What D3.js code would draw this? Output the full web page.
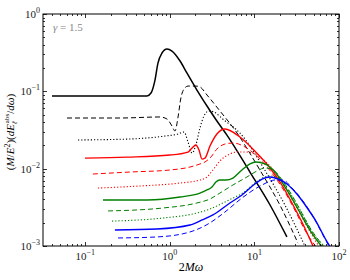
<!DOCTYPE html>
<html>
<head>
<meta charset="utf-8">
<script src="https://cdn.jsdelivr.net/npm/d3@7"></script>
<style>
body { margin: 0; background: #fff; }
text { font-family: "Liberation Serif", "DejaVu Serif", serif; }
</style>
</head>
<body>
<script>
// each curve: [2M*omega, (M/E^2)(dE/domega)]
var blackSolid = [[0.0404,0.0870],[0.536,0.0870],[0.598,0.0951],[0.667,0.140],[0.723,0.232],[0.807,0.313],[0.924,0.353],[1.06,0.332],[1.32,0.247],[1.59,0.173],[2.09,0.104],[2.75,0.0646],[3.60,0.0413],[4.73,0.0272],[8.85,0.00905],[15.3,0.00339],[24.2,0.00131]];
var blackDashed = [[0.0608,0.0452],[0.257,0.0452],[0.764,0.0466],[0.924,0.0439],[1.06,0.0356],[1.15,0.0307],[1.25,0.0466],[1.35,0.0820],[1.47,0.107],[1.64,0.117],[2.03,0.117],[2.27,0.114],[2.75,0.0896],[3.91,0.0557],[5.88,0.0316],[11.6,0.00961],[20.0,0.00339],[32.7,0.00109]];
var blackDotted = [[0.0820,0.0235],[0.338,0.0242],[0.875,0.0264],[1.25,0.0281],[1.47,0.0298],[1.64,0.0221],[1.83,0.0159],[2.03,0.0202],[2.27,0.0336],[2.53,0.0480],[2.90,0.0557],[3.32,0.0540],[4.36,0.0426],[6.74,0.0289],[13.7,0.00905],[23.6,0.00319],[39.5,0.001]];
var redSolid = [[0.0992,0.0137],[0.311,0.0141],[1.00,0.0150],[1.64,0.0164],[1.83,0.0185],[2.03,0.0202],[2.21,0.0174],[2.40,0.0133],[2.60,0.0137],[2.98,0.0196],[3.60,0.0281],[4.48,0.0326],[6.74,0.0257],[10.1,0.0169],[15.3,0.0102],[21.1,0.00615],[27.8,0.00360],[36.4,0.00204],[50.5,0.00094]];
var redDashed = [[0.123,0.00853],[0.338,0.00905],[1.00,0.00961],[1.73,0.0105],[2.27,0.0115],[2.60,0.0122],[2.98,0.0137],[3.70,0.0185],[4.48,0.0208],[5.57,0.0215],[7.72,0.0191],[11.0,0.0141],[16.1,0.00879],[22.9,0.00499],[30.9,0.00275],[39.5,0.00161],[54.8,0.00094]];
var redDotted = [[0.141,0.00562],[0.443,0.00597],[1.32,0.00652],[2.27,0.00713],[2.75,0.00780],[3.23,0.00961],[3.91,0.0126],[4.86,0.0150],[6.21,0.0164],[8.15,0.0164],[11.0,0.0146],[15.3,0.0108],[21.7,0.00633],[30.9,0.00329],[42.9,0.00171],[59.5,0.00094]];
var greenSolid = [[0.162,0.00393],[0.536,0.00393],[1.32,0.00430],[2.27,0.00484],[2.75,0.00530],[3.15,0.00580],[3.50,0.00672],[3.91,0.00713],[4.60,0.00713],[5.57,0.00757],[7.12,0.00961],[8.85,0.0115],[10.4,0.0122],[13.3,0.0115],[17.5,0.00905],[24.2,0.00530],[32.7,0.00301],[45.3,0.00161],[64.5,0.00094]];
var greenDashed = [[0.186,0.00284],[0.829,0.00310],[2.09,0.00360],[2.98,0.00405],[3.91,0.00484],[5.57,0.00615],[8.15,0.00780],[10.7,0.00933],[13.3,0.0102],[16.6,0.00961],[22.9,0.00633],[31.8,0.00349],[44.1,0.00181],[68.1,0.00094]];
var greenDotted = [[0.207,0.00210],[0.829,0.00230],[2.09,0.00267],[2.98,0.00301],[4.24,0.00360],[5.57,0.00417],[7.31,0.00484],[10.1,0.00652],[13.3,0.00780],[16.1,0.00804],[20.0,0.00713],[26.3,0.00484],[36.4,0.00267],[49.1,0.00147],[71.9,0.00094]];
var blueSolid = [[0.224,0.00161],[0.704,0.00166],[1.73,0.00187],[2.40,0.00217],[3.23,0.00252],[5.13,0.00360],[7.12,0.00456],[10.1,0.00633],[12.3,0.00735],[15.3,0.00780],[19.0,0.00735],[24.2,0.00633],[31.8,0.00470],[40.6,0.00329],[53.3,0.00210],[68.1,0.00127],[80.2,0.00094]];
var blueDashed = [[0.244,0.00127],[0.704,0.00131],[1.73,0.00152],[2.82,0.00192],[4.48,0.00275],[7.12,0.00417],[12.3,0.00615],[17.5,0.00713],[21.7,0.00713],[27.8,0.00562],[37.4,0.00382],[50.5,0.00230],[64.5,0.00139],[78.1,0.00094]];

var xMajor = [0.1, 1, 10, 100];
var xExp = ["\u22121", "0", "1", "2"];
var yMajor = [0.001, 0.01, 0.1, 1];
var yExp = ["\u22123", "\u22122", "\u22121", "0"];

var series = [
  {data: blackSolid, color: "#000", dash: null, w: 1.5},
  {data: blackDashed, color: "#000", dash: "5,3", w: 1},
  {data: blackDotted, color: "#000", dash: "1.2,2", w: 1.1},
  {data: redSolid, color: "#ff0000", dash: null, w: 1.4},
  {data: redDashed, color: "#ff0000", dash: "5,3", w: 1},
  {data: redDotted, color: "#ff0000", dash: "1.2,2", w: 1.1},
  {data: greenSolid, color: "#008000", dash: null, w: 1.4},
  {data: greenDashed, color: "#008000", dash: "5,3", w: 1},
  {data: greenDotted, color: "#008000", dash: "1.2,2", w: 1.1},
  {data: blueSolid, color: "#0000ff", dash: null, w: 1.4},
  {data: blueDashed, color: "#0000ff", dash: "5,3", w: 1}
];

var W = 350, H = 280;
var m = {l: 43, t: 14, r: 11, b: 34};

var svg = d3.select("body").append("svg")
  .attr("width", W)
  .attr("height", H);

var x = d3.scaleLog().domain([Math.pow(10, -1.5), 100]).range([m.l, W - m.r]);
var y = d3.scaleLog().domain([0.001, 1]).range([H - m.b, m.t]);

svg.append("clipPath").attr("id", "plotclip")
  .append("rect")
  .attr("x", m.l).attr("y", m.t)
  .attr("width", W - m.l - m.r).attr("height", H - m.t - m.b);

var line = d3.line()
  .x(function(d) { return x(d[0]); })
  .y(function(d) { return y(d[1]); })
  .curve(d3.curveMonotoneX);

var g = svg.append("g").attr("clip-path", "url(#plotclip)");
series.forEach(function(s) {
  g.append("path")
    .attr("d", line(s.data))
    .attr("fill", "none")
    .attr("stroke", s.color)
    .attr("stroke-width", s.w)
    .attr("stroke-dasharray", s.dash);
});

// ticks, all pointing inward
var x0 = m.l, x1 = W - m.r, y0 = H - m.b, y1 = m.t;
var xMinor = [], yMinor = [];
for (var k = -2; k <= 1; k++) {
  for (var j = 2; j <= 9; j++) {
    var v = j * Math.pow(10, k);
    if (v >= x.domain()[0] && v <= 100) xMinor.push(v);
  }
}
for (var k = -3; k <= -1; k++) {
  for (var j = 2; j <= 9; j++) yMinor.push(j * Math.pow(10, k));
}

var ticks = svg.append("g").attr("stroke", "#000").attr("stroke-width", 0.8);
function xt(vals, len) {
  vals.forEach(function(v) {
    var px = Math.round(x(v)) + 0.5;
    ticks.append("line").attr("x1", px).attr("x2", px).attr("y1", y0).attr("y2", y0 - len);
    ticks.append("line").attr("x1", px).attr("x2", px).attr("y1", y1).attr("y2", y1 + len);
  });
}
function yt(vals, len) {
  vals.forEach(function(v) {
    var py = Math.round(y(v)) + 0.5;
    ticks.append("line").attr("y1", py).attr("y2", py).attr("x1", x0).attr("x2", x0 + len);
    ticks.append("line").attr("y1", py).attr("y2", py).attr("x1", x1).attr("x2", x1 - len);
  });
}
xt(xMajor, 4); xt(xMinor, 2);
yt(yMajor, 4); yt(yMinor, 2);

svg.append("rect")
  .attr("x", x0).attr("y", y1)
  .attr("width", x1 - x0).attr("height", y0 - y1)
  .attr("fill", "none").attr("stroke", "#000").attr("stroke-width", 1);

// tick labels
xMajor.forEach(function(v, i) {
  var t = svg.append("text")
    .attr("x", x(v)).attr("y", y0 + 14)
    .attr("text-anchor", "middle")
    .attr("font-size", 11).attr("fill", "#222");
  t.append("tspan").text("10");
  t.append("tspan").attr("dy", -5).attr("font-size", 8).text(xExp[i]);
});
yMajor.forEach(function(v, i) {
  var t = svg.append("text")
    .attr("x", x0 - 3).attr("y", y(v) + 4)
    .attr("text-anchor", "end")
    .attr("font-size", 11).attr("fill", "#222");
  t.append("tspan").text("10");
  t.append("tspan").attr("dy", -5).attr("font-size", 8).text(yExp[i]);
});

// axis labels
var xl = svg.append("text")
  .attr("x", (x0 + x1) / 2).attr("y", 271)
  .attr("text-anchor", "middle")
  .attr("font-size", 12);
xl.append("tspan").text("2");
xl.append("tspan").attr("font-style", "italic").text("M\u03c9");

var yl = svg.append("text")
  .attr("transform", "translate(14," + ((y0 + y1) / 2 + 2) + ") rotate(-90)")
  .attr("text-anchor", "middle")
  .attr("font-size", 11);
yl.append("tspan").text("(");
yl.append("tspan").attr("font-style", "italic").text("M");
yl.append("tspan").text("/");
yl.append("tspan").attr("font-style", "italic").text("E");
yl.append("tspan").attr("dy", -4).attr("font-size", 8).text("2");
yl.append("tspan").attr("dy", 4).text(")(");
yl.append("tspan").attr("font-style", "italic").text("dE");
yl.append("tspan").attr("dy", 3).attr("font-size", 7).attr("font-style", "italic").text("\u2113");
yl.append("tspan").attr("dy", -8).attr("dx", -2).attr("font-size", 7).text("abs");
yl.append("tspan").attr("dy", 5).text("/");
yl.append("tspan").attr("font-style", "italic").text("d\u03c9");
yl.append("tspan").text(")");

var ann = svg.append("text")
  .attr("x", 53).attr("y", 31)
  .attr("font-size", 11).attr("fill", "#888");
ann.append("tspan").attr("font-style", "italic").text("\u03b3");
ann.append("tspan").text(" = 1.5");
</script>
</body>
</html>
